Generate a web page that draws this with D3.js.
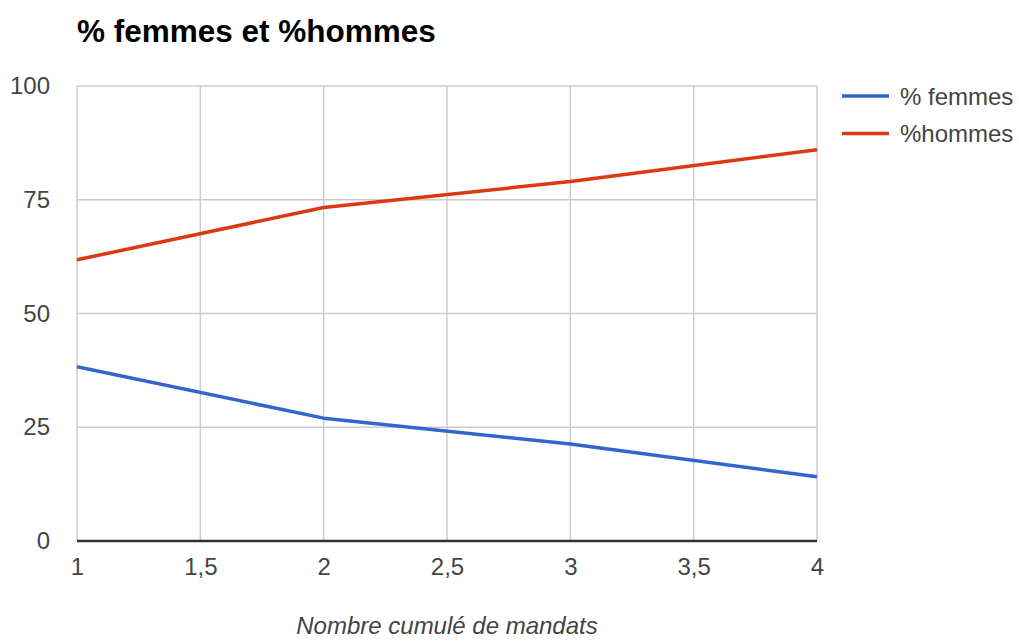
<!DOCTYPE html>
<html>
<head>
<meta charset="utf-8">
<script src="https://cdn.jsdelivr.net/npm/d3@7"></script>
<style>
  html, body { margin: 0; padding: 0; background: #fff; }
  svg { display: block; font-family: Arial, "Liberation Sans", sans-serif; }
</style>
</head>
<body>
<svg id="chart" width="1019" height="641"></svg>
<script>
const title = "% femmes et %hommes";
const xTitle = "Nombre cumulé de mandats";
const mandats = [1, 2, 3, 4];
const femmes = [38.3, 27.0, 21.3, 14.1];
const hommes = [61.8, 73.3, 79.0, 86.0];
const seriesNames = ["% femmes", "%hommes"];
const seriesColors = ["#3366cc", "#dc3912"];
const xTicks = [1, 1.5, 2, 2.5, 3, 3.5, 4];
const yTicks = [0, 25, 50, 75, 100];

const svg = d3.select("#chart");
const plotL = 77, plotR = 817, plotT = 86, plotB = 541;

const x = d3.scaleLinear().domain([1, 4]).range([plotL, plotR]);
const y = d3.scaleLinear().domain([0, 100]).range([plotB, plotT]);
const fmt = d => String(d).replace(".", ",");

// Title
svg.append("text")
  .attr("x", 77).attr("y", 42)
  .attr("font-size", 31.5).attr("font-weight", "bold").attr("fill", "#000")
  .text(title);

// Grid
const grid = svg.append("g");
grid.selectAll("line.h").data(yTicks.filter(d => d > 0)).join("line")
  .attr("x1", plotL).attr("x2", plotR)
  .attr("y1", d => y(d)).attr("y2", d => y(d))
  .attr("stroke", "#cccccc").attr("stroke-width", 1.5);
grid.selectAll("line.v").data(xTicks).join("line")
  .attr("x1", d => x(d)).attr("x2", d => x(d))
  .attr("y1", plotT).attr("y2", plotB)
  .attr("stroke", "#cccccc").attr("stroke-width", 1.5);

// Y axis labels
const yAxis = d3.axisLeft(y).tickValues(yTicks).tickSize(0).tickPadding(0).tickFormat(fmt);
const yg = svg.append("g").attr("transform", "translate(50,0)").call(yAxis);
yg.select(".domain").remove();
yg.selectAll("text").attr("font-size", 24).attr("fill", "#444")
  .attr("font-family", "Arial, 'Liberation Sans', sans-serif");

// X axis labels
const xAxis = d3.axisBottom(x).tickValues(xTicks).tickSize(0).tickPadding(0).tickFormat(fmt);
const xg = svg.append("g").attr("transform", "translate(0,558)").call(xAxis);
xg.select(".domain").remove();
xg.selectAll("text").attr("font-size", 24).attr("fill", "#444")
  .attr("font-family", "Arial, 'Liberation Sans', sans-serif");

// Baseline
svg.append("line")
  .attr("x1", plotL).attr("x2", plotR)
  .attr("y1", y(0)).attr("y2", y(0))
  .attr("stroke", "#333").attr("stroke-width", 2.5);

// Lines
const line = d3.line().x((d, i) => x(mandats[i])).y(d => y(d));
[femmes, hommes].forEach((s, i) => {
  svg.append("path").datum(s)
    .attr("d", line)
    .attr("fill", "none")
    .attr("stroke", seriesColors[i])
    .attr("stroke-width", 3.5)
    .attr("stroke-linejoin", "round");
});

// Legend
const leg = svg.append("g");
seriesNames.forEach((n, i) => {
  const ly = 96 + i * 37.5;
  leg.append("line")
    .attr("x1", 842).attr("x2", 889)
    .attr("y1", ly).attr("y2", ly)
    .attr("stroke", seriesColors[i]).attr("stroke-width", 3.5);
  leg.append("text")
    .attr("x", 900).attr("y", ly + 8.5)
    .attr("font-size", 24).attr("fill", "#444")
    .text(n);
});

// X axis title
svg.append("text")
  .attr("x", (plotL + plotR) / 2).attr("y", 634)
  .attr("text-anchor", "middle")
  .attr("font-size", 24).attr("font-style", "italic").attr("fill", "#444")
  .text(xTitle);
</script>
</body>
</html>
